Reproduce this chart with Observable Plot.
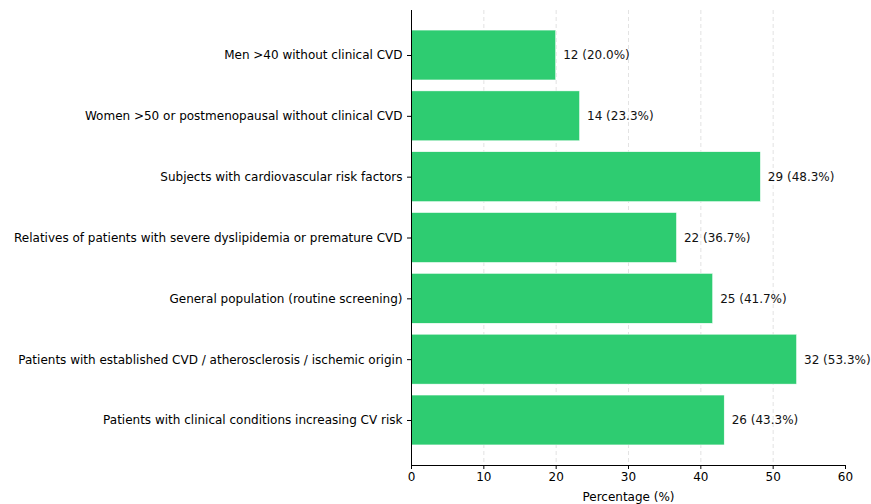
<!DOCTYPE html>
<html>
<head>
<meta charset="utf-8">
<script src="https://cdn.jsdelivr.net/npm/d3@7"></script>
<script src="https://cdn.jsdelivr.net/npm/@observablehq/plot@0.6"></script>
<style>
  html, body { margin: 0; padding: 0; background: #fff; }
  #chart svg { font-family: "DejaVu Sans", sans-serif; }
</style>
</head>
<body>
<div id="chart"></div>
<script>
const categories = [
  "Men >40 without clinical CVD",
  "Women >50 or postmenopausal without clinical CVD",
  "Subjects with cardiovascular risk factors",
  "Relatives of patients with severe dyslipidemia or premature CVD",
  "General population (routine screening)",
  "Patients with established CVD / atherosclerosis / ischemic origin",
  "Patients with clinical conditions increasing CV risk"
];
const counts = [12, 14, 29, 22, 25, 32, 26];
const percentages = [20.0, 23.3, 48.3, 36.7, 41.7, 53.3, 43.3];
const xTicks = [0, 10, 20, 30, 40, 50, 60];
const gridTicks = [10, 20, 30, 40, 50];

const data = categories.map((c, i) => ({
  category: c,
  count: counts[i],
  pct: percentages[i],
  label: `${counts[i]} (${percentages[i].toFixed(1)}%)`
}));

const chart = Plot.plot({
  width: 871,
  height: 504,
  marginTop: 10,
  marginBottom: 39,
  marginLeft: 411,
  marginRight: 26,
  style: { fontFamily: "DejaVu Sans, sans-serif", fontSize: "12px", color: "#000", background: "#fff" },
  x: { domain: [0, 60], label: null },
  y: { domain: categories, paddingInner: 0.18, paddingOuter: 0.33, align: 0.5, round: false, label: null },
  marks: [
    Plot.ruleX(gridTicks, { stroke: "#b0b0b0", strokeOpacity: 0.45, strokeDasharray: "4,3", strokeWidth: 0.8 }),
    Plot.barX(data, { x: "pct", y: "category", fill: "#2ecc71", stroke: "#fff", strokeWidth: 0.5 }),
    Plot.text(data, { x: "pct", y: "category", text: "label", dx: 7, textAnchor: "start", fill: "#111", fontSize: 12 }),
    Plot.axisX({ ticks: xTicks, tickSize: 4, tickPadding: 3, tickFormat: d => String(d), label: "Percentage (%)", labelAnchor: "center", labelArrow: "none", labelOffset: 35, fill: "#000", stroke: "#000", fontSize: 12 }),
    Plot.axisY({ tickSize: 4, tickPadding: 5, label: null, fill: "#000", stroke: "#000", fontSize: 12 }),
    Plot.ruleX([0], { stroke: "#000", strokeWidth: 1 }),
    Plot.frame({ anchor: "bottom", stroke: "#000", strokeWidth: 1 })
  ]
});
document.getElementById("chart").appendChild(chart);
</script>
</body>
</html>
